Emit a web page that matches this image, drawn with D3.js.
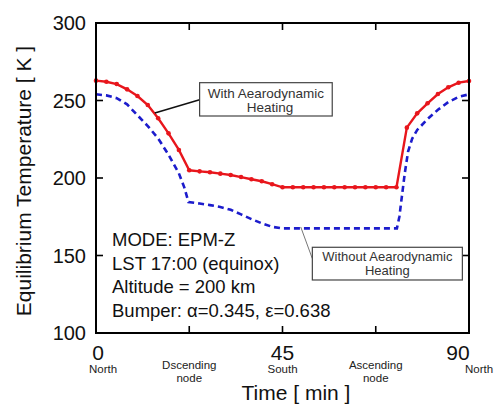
<!DOCTYPE html>
<html>
<head>
<meta charset="utf-8">
<script src="https://cdn.jsdelivr.net/npm/d3@7/dist/d3.min.js"></script>
<style>
  html, body { margin: 0; padding: 0; background: #fff; }
  svg { display: block; font-family: "Liberation Sans", Arial, sans-serif; }
</style>
</head>
<body>
<svg id="chart" width="495" height="412"></svg>
<script>
// ---- data ----
const withTime = [0,2.5,5,7.5,10,12.5,15,17.5,20,22.5,25,27.5,30,32.5,35,37.5,40,42.5,45,47.5,50,52.5,55,57.5,60,62.5,65,67.5,70,72.5,75,77.5,80,82.5,85,87.5,90];
const withTemp = [262.8,262.1,260.6,257.2,252.9,247.1,238.5,228.8,218.1,205.0,204.3,203.7,202.8,201.9,200.6,199.2,197.9,196.0,194.0,194.0,194.0,194.0,194.0,194.0,194.0,194.0,194.0,194.0,194.0,194.0,232.5,241.7,248.2,254.2,258.5,261.5,262.6];

const withoutTime = [0,2.5,5,7.5,10,12.5,15,17.5,20,21.3,22.3,25,27.5,30,32.5,35,37.5,40,42.5,45,47.5,50,55,60,65,70,72.6,73.2,73.8,74.5,75.3,76.3,77.5,80,82.5,85,87.5,90];
const withoutTemp = [254.0,253.3,251.5,247.5,240.5,233.5,225.5,215.0,203.0,194.0,184.5,183.5,182.5,181.3,179.5,176.5,173.5,170.8,168.5,167.5,167.5,167.5,167.5,167.5,167.5,167.5,167.5,175.0,188.0,203.0,217.0,225.5,231.0,238.0,244.0,249.0,252.3,254.0];

const xTicks = [0, 22.5, 45, 67.5, 90];
const xTickLabels = ["0", "", "45", "", "90"];
const xSubLabels = [
  {t: 0, lines: ["North"]},
  {t: 22.5, lines: ["Dscending", "node"]},
  {t: 45, lines: ["South"]},
  {t: 67.5, lines: ["Ascending", "node"]},
  {t: 90, lines: ["North"]}
];
const yTicks = [100, 150, 200, 250, 300];
const infoLines = ["MODE: EPM-Z", "LST 17:00 (equinox)", "Altitude = 200 km", "Bumper: \u03b1=0.345, \u03b5=0.638"];
const xTitle = "Time [ min ]";
const yTitle = "Equilibrium Temperature [ K ]";

// ---- layout ----
const svg = d3.select("#chart");
const L = 96, R = 469, T = 23, B = 333;
const x = d3.scaleLinear().domain([0, 90]).range([L, R]);
const y = d3.scaleLinear().domain([100, 300]).range([B, T]);

const withData = withTime.map((t, i) => [t, withTemp[i]]);
const withoutData = withoutTime.map((t, i) => [t, withoutTemp[i]]);
const line = d3.line().x(d => x(d[0])).y(d => y(d[1]));

const red = "#e8161c", blue = "#1c1ccc";

// blue dashed
svg.append("path").datum(withoutData)
  .attr("d", line).attr("fill", "none")
  .attr("stroke", blue).attr("stroke-width", 2.6)
  .attr("stroke-dasharray", "6,4");

// red with markers
svg.append("path").datum(withData)
  .attr("d", line).attr("fill", "none")
  .attr("stroke", red).attr("stroke-width", 2.4);
svg.selectAll("circle.m").data(withData).enter().append("circle")
  .attr("class", "m")
  .attr("cx", d => x(d[0])).attr("cy", d => y(d[1])).attr("r", 2.3)
  .attr("fill", red);

// frame
svg.append("rect").attr("x", L).attr("y", T).attr("width", R - L).attr("height", B - T)
  .attr("fill", "none").attr("stroke", "#000").attr("stroke-width", 2);

// ticks (inward, all four sides)
const tl = 7;
xTicks.slice(1, -1).forEach(t => {
  svg.append("line").attr("x1", x(t)).attr("x2", x(t)).attr("y1", B).attr("y2", B - tl).attr("stroke", "#000").attr("stroke-width", 1.6);
  svg.append("line").attr("x1", x(t)).attr("x2", x(t)).attr("y1", T).attr("y2", T + tl).attr("stroke", "#000").attr("stroke-width", 1.6);
});
yTicks.slice(1, -1).forEach(v => {
  svg.append("line").attr("x1", L).attr("x2", L + tl).attr("y1", y(v)).attr("y2", y(v)).attr("stroke", "#000").attr("stroke-width", 1.6);
  svg.append("line").attr("x1", R).attr("x2", R - tl).attr("y1", y(v)).attr("y2", y(v)).attr("stroke", "#000").attr("stroke-width", 1.6);
});

// y tick labels
yTicks.forEach(v => {
  svg.append("text").attr("x", L - 10).attr("y", y(v) + 7)
    .attr("text-anchor", "end").attr("font-size", 20).attr("fill", "#111").text(v);
});

// x tick labels
const xLabelShift = {0: 2, 90: -11};
xTicks.forEach((t, i) => {
  if (!xTickLabels[i]) return;
  svg.append("text").attr("x", x(t) + (xLabelShift[t] || 0)).attr("y", 360)
    .attr("text-anchor", "middle").attr("font-size", 21).attr("fill", "#111").text(xTickLabels[i]);
});

// x sub labels
const subShift = {0: 7, 90: 10};
xSubLabels.forEach(s => {
  const base = s.lines.length === 2 ? 369 : 373;
  s.lines.forEach((ln, j) => {
    svg.append("text").attr("x", x(s.t) + (subShift[s.t] || 0)).attr("y", base + j * 12.5)
      .attr("text-anchor", "middle").attr("font-size", 11.5).attr("fill", "#222").text(ln);
  });
});

// axis titles
svg.append("text").attr("x", 296).attr("y", 400).attr("text-anchor", "middle")
  .attr("font-size", 21).attr("fill", "#111").text(xTitle);
svg.append("text").attr("transform", `translate(31,${(T + B) / 2 + 3}) rotate(-90)`)
  .attr("text-anchor", "middle").attr("font-size", 21).attr("fill", "#111").text(yTitle);

// info text
infoLines.forEach((s, i) => {
  svg.append("text").attr("x", 112).attr("y", 246 + i * 23.6)
    .attr("font-size", 18.5).attr("fill", "#111").text(s);
});

// annotation 1: With aerodynamic heating
const a1 = {x0: 25, x1: 57, y0: 261.5, y1: 240, px: 14.2, py: 241.9, ly: 250.5};
svg.append("line").attr("x1", x(a1.px)).attr("y1", y(a1.py)).attr("x2", x(a1.x0)).attr("y2", y(a1.ly))
  .attr("stroke", "#111").attr("stroke-width", 1.6);
svg.append("rect").attr("x", x(a1.x0)).attr("y", y(a1.y0)).attr("width", x(a1.x1) - x(a1.x0)).attr("height", y(a1.y1) - y(a1.y0))
  .attr("fill", "#fff").attr("stroke", "#444").attr("stroke-width", 1.2);
["With Aearodynamic", "Heating"].forEach((s, i) => {
  svg.append("text").attr("x", (x(a1.x0) + x(a1.x1)) / 2 + (i ? 4 : 0)).attr("y", y(a1.y0) + 15 + i * 14.5)
    .attr("text-anchor", "middle").attr("font-size", 13.5).attr("fill", "#333").text(s);
});

// annotation 2: Without aerodynamic heating
const a2 = {x0: 52.2, x1: 88.4, y0: 155.3, y1: 134.2, px: 49.4, py: 168.4, ly: 148};
svg.append("line").attr("x1", x(a2.px)).attr("y1", y(a2.py)).attr("x2", x(a2.x0)).attr("y2", y(a2.ly))
  .attr("stroke", "#777").attr("stroke-width", 1);
svg.append("rect").attr("x", x(a2.x0)).attr("y", y(a2.y0)).attr("width", x(a2.x1) - x(a2.x0)).attr("height", y(a2.y1) - y(a2.y0))
  .attr("fill", "#fff").attr("stroke", "#444").attr("stroke-width", 1.2);
["Without Aearodynamic", "Heating"].forEach((s, i) => {
  svg.append("text").attr("x", (x(a2.x0) + x(a2.x1)) / 2).attr("y", y(a2.y0) + 14 + i * 14)
    .attr("text-anchor", "middle").attr("font-size", 13).attr("fill", "#333").text(s);
});
</script>
</body>
</html>
